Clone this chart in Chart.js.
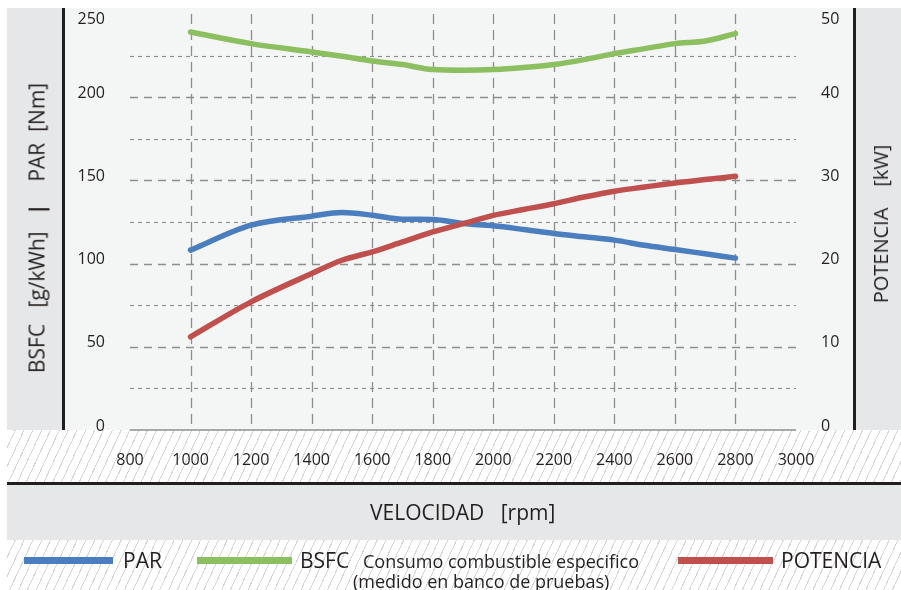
<!doctype html>
<html lang="es">
  <head>
    <meta charset="utf-8">
    <title>Curvas motor</title>
    <style>
      * { margin: 0; padding: 0; }
      body {
        width: 901px; height: 590px; position: relative; overflow: hidden;
        background: #fff; font-family: 'Open Sans', sans-serif; color: #231f20;
      }
      .box { position: absolute; }
      .hatch { background: repeating-linear-gradient(115deg, #fff 0 7px, #d6d6d6 7px 8px); }
      .gray { background: #e6e7e8; }
      .dark { background: #231f20; }
      .txt { position: absolute; white-space: pre; line-height: 1; }
      .rot { transform: translate(-50%, -50%) rotate(-90deg); }
      #chart { position: absolute; left: 0; top: 0; }
    </style>
  </head>
  <body>
    <div class="box hatch" style="left:7px;top:430px;width:894px;height:52px"></div>
    <div class="box hatch" style="left:7px;top:540px;width:894px;height:50px"></div>
    <div class="box gray" style="left:7px;top:8px;width:55px;height:422px"></div>
    <div class="box dark" style="left:62px;top:8px;width:3px;height:422px"></div>
    <div class="box" style="left:65px;top:8px;width:788px;height:422px;background:#f4f5f5"></div>
    <div class="box dark" style="left:853px;top:8px;width:3px;height:422px"></div>
    <div class="box gray" style="left:856px;top:8px;width:45px;height:422px"></div>
    <div class="box dark" style="left:7px;top:482px;width:894px;height:3px"></div>
    <div class="box gray" style="left:7px;top:485px;width:894px;height:55px"></div>

    <canvas id="chart" width="901" height="590"></canvas>

    <div class="txt rot" style="left:37px;top:228px;font-size:21px">BSFC   [g/kWh]   <b>|</b>    PAR  [Nm]</div>
    <div class="txt rot" style="left:881px;top:224px;font-size:20px">POTENCIA    [kW]</div>
    <div class="txt" style="left:370px;top:502px;font-size:21px;line-height:21px">VELOCIDAD   [rpm]</div>

    <div class="box" style="left:24px;top:557px;width:89px;height:7px;background:#4a7ebf"></div>
    <div class="txt" style="left:123px;top:550px;font-size:21px;line-height:21px">PAR</div>
    <div class="box" style="left:197px;top:557px;width:95px;height:7px;background:#8cbf5f"></div>
    <div class="txt" style="left:300px;top:550px;font-size:21px;line-height:21px">BSFC</div>
    <div class="txt" style="left:363px;top:552px;font-size:18px;line-height:18px">Consumo combustible especifico</div>
    <div class="txt" style="left:353px;top:572px;font-size:18px;line-height:18px">(medido en banco de pruebas)</div>
    <div class="box" style="left:678px;top:557px;width:95px;height:7px;background:#c0504d"></div>
    <div class="txt" style="left:781px;top:550px;font-size:21px;line-height:21px">POTENCIA</div>

    <script src="https://cdn.jsdelivr.net/npm/chart.js"></script>
    <script>
    // data
    const rpm      = [1000, 1200, 1400, 1500, 1600, 1700, 1800, 1900, 2000, 2100, 2200, 2300, 2400, 2500, 2600, 2700, 2800];
    const par      = [108.1, 123.1, 128.5, 130.7, 129.1, 126.7, 126.5, 124.1, 122.7, 120.5, 118.1, 116.1, 114.1, 111.0, 108.5, 105.9, 103.3];
    const bsfc     = [239.2, 232.2, 227.2, 224.6, 221.8, 219.6, 216.6, 216.2, 216.6, 217.8, 219.6, 222.6, 226.2, 229.2, 232.2, 233.8, 238.2];
    const potencia = [11.2, 15.4, 18.8, 20.4, 21.4, 22.6, 23.8, 24.8, 25.8, 26.5, 27.2, 28.0, 28.7, 29.2, 29.7, 30.1, 30.5];

    const xTicks = [800, 1000, 1200, 1400, 1600, 1800, 2000, 2200, 2400, 2600, 2800, 3000];
    const leftTicks = [0, 50, 100, 150, 200, 250];
    const rightTicks = [0, 10, 20, 30, 40, 50];

    const pts = arr => rpm.map((x, i) => ({ x, y: arr[i] }));

    const tickFont = { family: 'Open Sans', size: 16 };

    // top label sits a bit lower in the original, push it down one half line
    const topLabel = max => v => v === max ? ['', String(v)] : String(v);

    // dashed grid like the original
    const dashedGrid = {
      id: 'dashedGrid',
      beforeDatasetsDraw(chart) {
        const { ctx, chartArea: a, scales: { x, y } } = chart;
        ctx.save();
        ctx.strokeStyle = '#8e8e8e';
        for (let v = 25; v < 250; v += 25) {
          const py = Math.round(y.getPixelForValue(v)) + 0.5;
          const major = v % 50 === 0;
          ctx.lineWidth = major ? 1.3 : 1.1;
          ctx.setLineDash(major ? [8, 6] : [4, 4]);
          ctx.beginPath(); ctx.moveTo(a.left, py); ctx.lineTo(a.right, py); ctx.stroke();
        }
        xTicks.slice(1, -1).forEach(v => {
          const px = Math.round(x.getPixelForValue(v)) + 0.5;
          ctx.lineWidth = 1.3;
          ctx.setLineDash([10, 6]);
          ctx.beginPath(); ctx.moveTo(px, a.top); ctx.lineTo(px, a.bottom); ctx.stroke();
        });
        ctx.setLineDash([]);
        ctx.lineWidth = 1.6;
        const py0 = y.getPixelForValue(0);
        ctx.beginPath(); ctx.moveTo(a.left, py0); ctx.lineTo(a.right, py0); ctx.stroke();
        ctx.restore();
      }
    };

    const line = (data, color, axis) => ({
      data: pts(data), yAxisID: axis,
      borderColor: color, borderWidth: 5.5,
      borderCapStyle: 'round', borderJoinStyle: 'round',
      pointRadius: 0, fill: false, cubicInterpolationMode: 'monotone'
    });

    // fixed axis boxes so the plot lands where the original has it
    const fixBox = (w, h) => s => {
      if (w) s.width = w;
      if (h) s.height = h;
      s.paddingTop = 0; s.paddingBottom = 0;
      s.paddingLeft = 0; s.paddingRight = 0;
    };

    const config = {
      type: 'line',
      data: {
        datasets: [
          { label: 'POTENCIA', ...line(potencia, '#c0504d', 'y1') },
          { label: 'PAR', ...line(par, '#4a7ebf', 'y') },
          { label: 'BSFC', ...line(bsfc, '#8cbf5f', 'y') }
        ]
      },
      options: {
        responsive: false,
        animation: false,
        devicePixelRatio: 1,
        layout: { padding: { top: 14, left: 0, right: 0, bottom: 0 } },
        plugins: { legend: { display: false }, tooltip: { enabled: false } },
        scales: {
          x: {
            type: 'linear', min: 800, max: 3000,
            afterBuildTicks: s => { s.ticks = xTicks.map(value => ({ value })); },
            ticks: { autoSkip: false, maxRotation: 0, padding: 13, font: tickFont, color: '#231f20',
                     callback: v => String(v) },
            grid: { display: false }, border: { display: false },
            afterFit: fixBox(0, 160)
          },
          y: {
            position: 'left', min: 0, max: 250,
            afterBuildTicks: s => { s.ticks = leftTicks.map(value => ({ value })); },
            ticks: { padding: 17, labelOffset: -4, font: tickFont, color: '#231f20',
                     callback: topLabel(250) },
            grid: { display: false }, border: { display: false },
            afterFit: fixBox(130, 0)
          },
          y1: {
            position: 'right', min: 0, max: 50,
            afterBuildTicks: s => { s.ticks = rightTicks.map(value => ({ value })); },
            ticks: { padding: 17, labelOffset: -4, font: tickFont, color: '#231f20',
                     callback: topLabel(50) },
            grid: { display: false }, border: { display: false },
            afterFit: fixBox(105, 0)
          }
        }
      },
      plugins: [dashedGrid]
    };

    const myChart = new Chart(document.getElementById('chart'), config);
    </script>
  </body>
</html>
